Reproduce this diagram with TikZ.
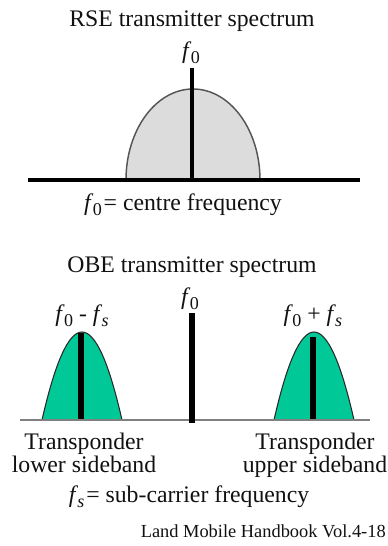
\documentclass[tikz,border=0pt]{standalone}
\usepackage{fontspec}
\setmainfont{Liberation Serif}
\usepackage{graphicx}
\usetikzlibrary{positioning}
\definecolor{cText}{HTML}{111111}
\definecolor{cDome}{HTML}{DCDCDC}
\definecolor{cDomeEdge}{HTML}{555555}
\definecolor{cBand}{HTML}{00C896}
\definecolor{cBandEdge}{HTML}{2A2A2A}
\definecolor{cAxis}{HTML}{808080}
\newcommand{\fq}[1]{\textit{f}\kern-0.03em\raisebox{-0.45ex}{\scalebox{0.76}{#1}}}
\tikzset{
  lbl/.style={
    font=\fontsize{17.8}{13.5}\selectfont, text=cText, inner sep=0pt
  },
  credit/.style={
    font=\fontsize{13.8}{16}\selectfont, text=cText, inner sep=0pt
  },
  carrier/.style={
    line width=#1, black, line cap=butt
  },
  rsedome/.style={
    draw=cDomeEdge, fill=cDome, line width=1.1pt
  },
  sidedome/.style={
    draw=cBandEdge, fill=cBand, line width=0.8pt
  },
}

\begin{document}
\begin{tikzpicture}[x=0.75pt, y=0.75pt]
\useasboundingbox (0,0) rectangle (387,546);

% RSE spectrum
\node[lbl, anchor=base] (rsetitle) at (192,519) {RSE transmitter spectrum};
\node[lbl] (rsef) at (191,493) {\fq{0}};
\draw[rsedome] (126,366) arc[start angle=180, end angle=0, x radius=67, y radius=91];
\coordinate (rseL) at (28,366);
\coordinate (rseR) at (360,366);
\draw[carrier=3pt] (rseL) -- (rseR);
\coordinate (rsetop) at (192,478);
\coordinate (rsebot) at (192,364.5);
\draw[carrier=3.4pt] (rsebot) -- (rsetop);
\node[lbl, anchor=base] (rsekey) at (183,335) {\fq{0}\kern0.08em= centre frequency};

% OBE spectrum
\node[lbl, anchor=base] (obetitle) at (192,273) {OBE transmitter spectrum};
\node[lbl] (obef) at (190,247) {\fq{0}};
\node[lbl] (lowf) at (82,230) {\fq{0} - \fq{\textit{s}}};
\node[lbl] (upf) at (313,230) {\fq{0} + \fq{\textit{s}}};

% sidebands
\draw[sidedome] (42,126) .. controls (68.67,243.33) and (95.33,243.33) .. (122,126) -- cycle;
\draw[sidedome] (274,126) .. controls (300.67,243.33) and (327.33,243.33) .. (354,126) -- cycle;
\coordinate (obeL) at (20,126);
\coordinate (obeR) at (370,126);
\draw[cAxis, line width=1.9pt] (obeL) -- (obeR);
\draw[carrier=4.3pt] (81,127) -- (81,213);
\draw[carrier=4.0pt] (313,127) -- (313,209);
\draw[carrier=5.2pt] (192,123) -- (192,233);

\node[lbl, anchor=north, align=center] (lowtxt) at (84,113.5) {Transponder\\lower sideband};
\node[lbl, anchor=north, align=center] (uptxt) at (315,113.5) {Transponder\\upper sideband};
\node[lbl, anchor=base] (obekey) at (189,43) {\fq{\textit{s}}\kern0.08em= sub-carrier frequency};

\node[credit, anchor=base east] (source) at (386,8) {Land Mobile Handbook Vol.4-18};
\end{tikzpicture}
\end{document}
